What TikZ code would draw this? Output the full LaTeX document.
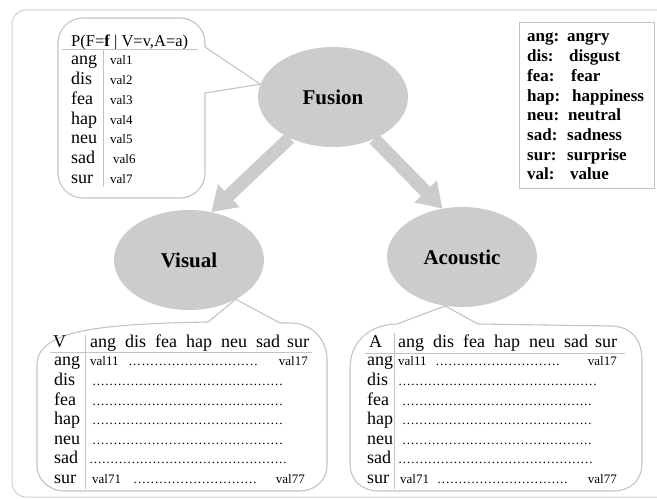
\documentclass[tikz,border=0pt]{standalone}
\usepackage{fontspec}
\setmainfont{Liberation Serif}
\usetikzlibrary{arrows.meta,shapes.geometric,backgrounds}
\definecolor{ellgray}{HTML}{CCCCCC}
\definecolor{linegray}{HTML}{C3C3C3}
\definecolor{framegray}{HTML}{CFCFCF}
\newcommand\mydotsto[1]{\hbox to #1pt{\xleaders\hbox to 4.2pt{\hss.\hss}\hfill}}
\begin{document}
\begin{tikzpicture}[x=1pt,y=-1pt,
  ell/.style={ellipse,fill=ellgray,minimum width=150pt,minimum height=100pt,inner sep=0pt,font=\fontsize{21}{24}\selectfont\bfseries},
  fat/.style={draw=ellgray,line width=13pt,-{Triangle[width=30pt,length=24pt]}},
  callout/.style={draw=linegray,line width=1.1pt},
  rulel/.style={draw=linegray,line width=1pt},
  lbl/.style={anchor=base west,inner sep=0pt,font=\fontsize{18}{20}\selectfont},
  hdr/.style={anchor=base west,inner sep=0pt,font=\fontsize{16.5}{19}\selectfont},
  val/.style={anchor=base west,inner sep=0pt,font=\fontsize{13}{15}\selectfont},
  vale/.style={anchor=base east,inner sep=0pt,font=\fontsize{13}{15}\selectfont},
  leg/.style={anchor=base west,inner sep=0pt,font=\fontsize{17}{19}\selectfont\bfseries},
]
\useasboundingbox (0,0) rectangle (657,500);
% outer frame
\begin{scope}
\clip (0,0) rectangle (657,500);
\draw[draw=framegray,line width=1pt,rounded corners=14pt] (12,10) rectangle (720,497);
\end{scope}

% ellipses
\node[ell] (fusion) at (333,97) {Fusion};
\node[ell] (visual) at (189,260) {Visual};
\node[ell] (acoustic) at (462,257) {Acoustic};

% fat arrows
\begin{scope}[on background layer]
\draw[fat] (fusion) -- (visual.65);
\draw[fat] (fusion) -- (acoustic.112);
\end{scope}

% fusion callout
\draw[callout,rounded corners=25pt] (205,93) -- (205,198) -- (58,198) -- (58,18) -- (205,18) -- (205,47);
\draw[callout] (205,47) -- (fusion.170) -- (205,93);
\node[hdr] (fhead) at (71,47) {P(F=\textbf{f} | V=v,A=a)};
\draw[rulel] (62,50) -- (198,50);
\draw[rulel] (103.5,50) -- (103.5,187);
\foreach \t [count=\i] in {ang,dis,fea,hap,neu,sad,sur} {
  \pgfmathsetmacro\vx{\i==6 ? 113 : 110}
  \node[lbl] (fr\i) at (71,{65+19.7*(\i-1)}) {\t};
  \node[val] (fv\i) at (\vx,{65+19.7*(\i-1)}) {val\i};
}

% legend
\node[draw=linegray,line width=1pt,minimum width=135pt,minimum height=166pt,anchor=north west,inner sep=0pt] (legend) at (519,22) {};
\foreach \a/\b/\bx [count=\i] in {ang:/angry/567,dis:/disgust/569,fea:/fear/571,hap:/happiness/572,neu:/neutral/568,sad:/sadness/567,sur:/surprise/567,val:/value/570} {
  \node[leg] (lt\i) at (527,{42+19.7*(\i-1)}) {\a};
  \node[leg] (lm\i) at (\bx,{42+19.7*(\i-1)}) {\b};
}

% visual callout
\draw[callout] (208,322) .. controls (100,324) and (37,330) .. (37,365) -- (37,466)
  .. controls (37,480) and (50,491) .. (64,491) -- (300,491)
  .. controls (315,491) and (327,480) .. (327,466) -- (327,359)
  .. controls (327,339) and (311,323) .. (291,323) -- (280,323);
\draw[callout] (208,322) -- (visual.-40) -- (280,323);

% acoustic callout
\draw[callout] (397,324) .. controls (372,324) and (350,340) .. (350,368) -- (350,464)
  .. controls (350,480) and (362,491) .. (378,491) -- (614,491)
  .. controls (630,491) and (642,480) .. (642,464) -- (642,360)
  .. controls (642,340) and (632,327) .. (612,326) -- (478,324);
\draw[callout] (397,324) -- (acoustic.-109) -- (478,324);

% table rules
\draw[rulel] (50,352) -- (312,352);
\draw[rulel] (85,335) -- (85,489);
\draw[rulel] (365,353) -- (625,353);
\draw[rulel] (394,333) -- (394,489);

% headers
\node[lbl] (vV) at (53,348) {V};
\node[lbl] (aA) at (369,348) {A};
\foreach \w/\dx [count=\j] in {ang/0,dis/35,fea/65,hap/96,neu/131,sad/166,sur/197} {
  \node[lbl] (vh\j) at ({90+\dx},348) {\w};
  \node[lbl] (ah\j) at ({398+\dx},348) {\w};
}
% row labels
\foreach \t [count=\i] in {ang,dis,fea,hap,neu,sad,sur} {
  \node[lbl] (vr\i) at (54,{366+19.55*(\i-1)}) {\t};
  \node[lbl] (ar\i) at (367,{366+19.55*(\i-1)}) {\t};
}
% visual values
\node[val] (v11) at (90,366) {val11};
\node[val] (vd1) at (128,366) {\mydotsto{130}};
\node[vale] (v17) at (308,366) {val17};
\foreach \i in {2,3,4,5} {
  \node[val] (vd\i) at (92,{366+19.55*(\i-1)}) {\mydotsto{191}};
}
\node[val] (vd6) at (89,{366+19.55*5}) {\mydotsto{198}};
\node[val] (v71) at (92,{366+19.55*6}) {val71};
\node[val] (vd7) at (133,{366+19.55*6}) {\mydotsto{124}};
\node[vale] (v77) at (305,{366+19.55*6}) {val77};
% acoustic values
\node[val] (a11) at (398,366) {val11};
\node[val] (ad1) at (435,366) {\mydotsto{125}};
\node[vale] (a17) at (617,366) {val17};
\node[val] (ad2) at (398,{366+19.55}) {\mydotsto{199}};
\foreach \i in {3,4,5} {
  \node[val] (ad\i) at (402,{366+19.55*(\i-1)}) {\mydotsto{190}};
}
\node[val] (ad6) at (398,{366+19.55*5}) {\mydotsto{195}};
\node[val] (a71) at (400,{366+19.55*6}) {val71};
\node[val] (ad7) at (437,{366+19.55*6}) {\mydotsto{131}};
\node[vale] (a77) at (617,{366+19.55*6}) {val77};
\end{tikzpicture}
\end{document}
